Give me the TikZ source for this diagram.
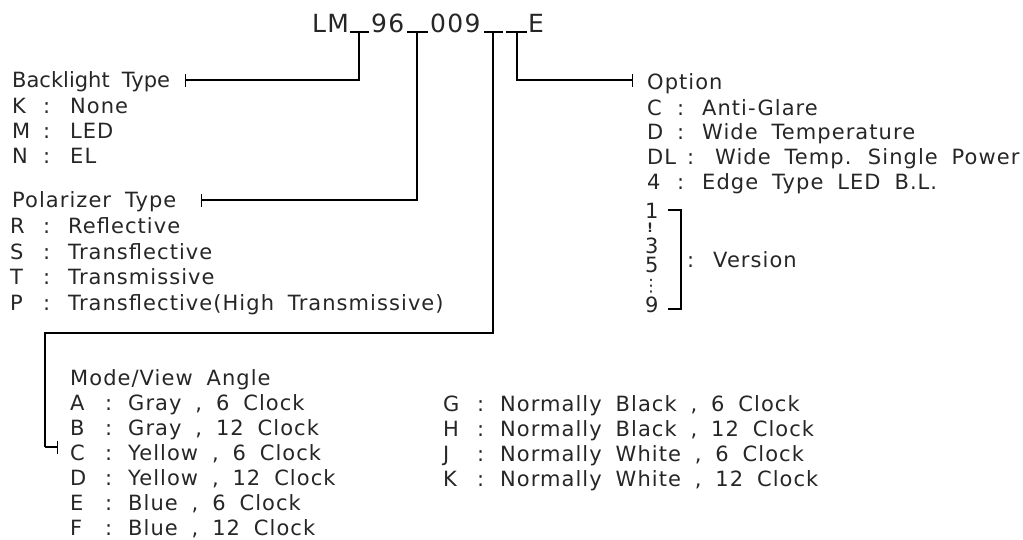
\documentclass[tikz,border=0pt]{standalone}
\usepackage{fontspec}
\setmainfont{DejaVu Sans}[LetterSpace=5,WordSpace=1.8]
\usetikzlibrary{arrows.meta}
\newcommand\ent[7]{%
  \node[lbl] (#1l) at (#3,#2) {#4};
  \node[lbl] (#1c) at (#5,#2) {:};
  \node[lbl] (#1v) at (#6,#2) {#7};}
\begin{document}
\begin{tikzpicture}[x=1pt,y=-1pt,
  lbl/.style={anchor=base west,inner sep=0pt,text=black!85,font=\fontsize{21}{21}\selectfont},
  ttl/.style={anchor=base west,inner sep=0pt,text=black!85,font=\fontsize{25}{25}\selectfont},
  ln/.style={line width=1.2pt},
  barend/.style={ln,-{Bar[width=13pt]}},
]
\useasboundingbox (0,0) rectangle (1023,539);

% title
\node[ttl] (tlm) at (312,32) {LM};
\node[ttl] (t96) at (371,32) {96};
\node[ttl] (t009) at (430,32) {009};
\node[ttl] (te) at (528,32) {E};
\coordinate (s1a) at (350,32); \coordinate (s1b) at (369,32); \coordinate (u1) at (359,32);
\coordinate (s2a) at (407,32); \coordinate (s2b) at (428,32); \coordinate (u2) at (417,32);
\coordinate (s3a) at (484,32); \coordinate (s3b) at (503,32); \coordinate (u3) at (493,32);
\coordinate (s4a) at (506,32); \coordinate (s4b) at (527,32); \coordinate (u4) at (517,32);
\draw[ln] (s1a) -- (s1b);
\draw[ln] (s2a) -- (s2b);
\draw[ln] (s3a) -- (s3b);
\draw[ln] (s4a) -- (s4b);

% backlight
\node[lbl,font=\fontsize{21}{21}\selectfont\addfontfeatures{LetterSpace=0}] (bl) at (12,87.5) {Backlight Type};
\ent{bk}{113.5}{12}{K}{43}{70}{None}
\ent{bm}{138.5}{12}{M}{43}{70}{LED}
\ent{bn}{163.5}{12}{N}{43}{70}{EL}
\coordinate (blend) at (185,80);
\draw[barend] (u1) |- (blend);

% polarizer
\node[lbl] (pl) at (12,207.5) {Polarizer Type};
\ent{pr}{233.5}{10}{R}{43}{68}{Reflective}
\ent{ps}{259.5}{10}{S}{43}{68}{Transflective}
\ent{pt}{284.5}{10}{T}{43}{68}{Transmissive}
\ent{pp}{310.5}{10}{P}{43}{68}{Transflective(High Transmissive)}
\coordinate (plend) at (201,200);
\draw[barend] (u2) |- (plend);

% option
\node[lbl] (ol) at (647,89.5) {Option};
\ent{oc}{115.5}{647}{C}{677}{702}{Anti-Glare}
\ent{od}{139.5}{647}{D}{677}{702}{Wide Temperature}
\ent{odl}{164.5}{647}{DL}{687}{715}{Wide Temp. Single Power}
\ent{ofour}{189.5}{647}{4}{677}{702}{Edge Type LED B.L.}
\coordinate (olend) at (633,80);
\draw[barend] (u4) |- (olend);

% version
\node[lbl] (v1) at (645,218.5) {1};
\node[inner sep=0pt,text=black!85,font=\bfseries\fontsize{13}{13}\selectfont] (vx1) at (650,228) {!};
\node[lbl] (v3) at (645,253.5) {3};
\node[lbl] (v5) at (645,272.5) {5};
\node[inner sep=0pt,text=black!85,font=\fontsize{17}{17}\selectfont] (vx2) at (651,286) {⋮};
\node[lbl] (v9) at (645,312.5) {9};
\coordinate (br1) at (668,210); \coordinate (br2) at (681,210);
\coordinate (br3) at (681,309); \coordinate (br4) at (668,309);
\draw[ln] (br1) -- (br2) -- (br3) -- (br4);
\node[lbl] (vc) at (687,267.5) {:};
\node[lbl] (vv) at (713,267.5) {Version};

% mode / view angle
\coordinate (m1) at (493,333); \coordinate (m2) at (45,333);
\coordinate (m3) at (45,447); \coordinate (mend) at (58,447);
\draw[ln] (u3) -- (m1) -- (m2) -- (m3);
\draw[barend] (m3) -- (mend);
\node[lbl] (ml) at (70,385.5) {Mode/View Angle};
\ent{ma}{410.5}{70}{A}{105}{128}{Gray , 6 Clock}
\ent{mb}{435.5}{70}{B}{105}{128}{Gray , 12 Clock}
\ent{mc}{460.5}{70}{C}{105}{128}{Yellow , 6 Clock}
\ent{md}{485.5}{70}{D}{105}{128}{Yellow , 12 Clock}
\ent{me}{510.5}{70}{E}{105}{128}{Blue , 6 Clock}
\ent{mf}{535.5}{70}{F}{105}{128}{Blue , 12 Clock}
\ent{mg}{411.5}{443}{G}{477}{500}{Normally Black , 6 Clock}
\ent{mh}{436.5}{443}{H}{477}{500}{Normally Black , 12 Clock}
\ent{mj}{461.5}{443}{J}{477}{500}{Normally White , 6 Clock}
\ent{mk}{486.5}{443}{K}{477}{500}{Normally White , 12 Clock}
\end{tikzpicture}
\end{document}
